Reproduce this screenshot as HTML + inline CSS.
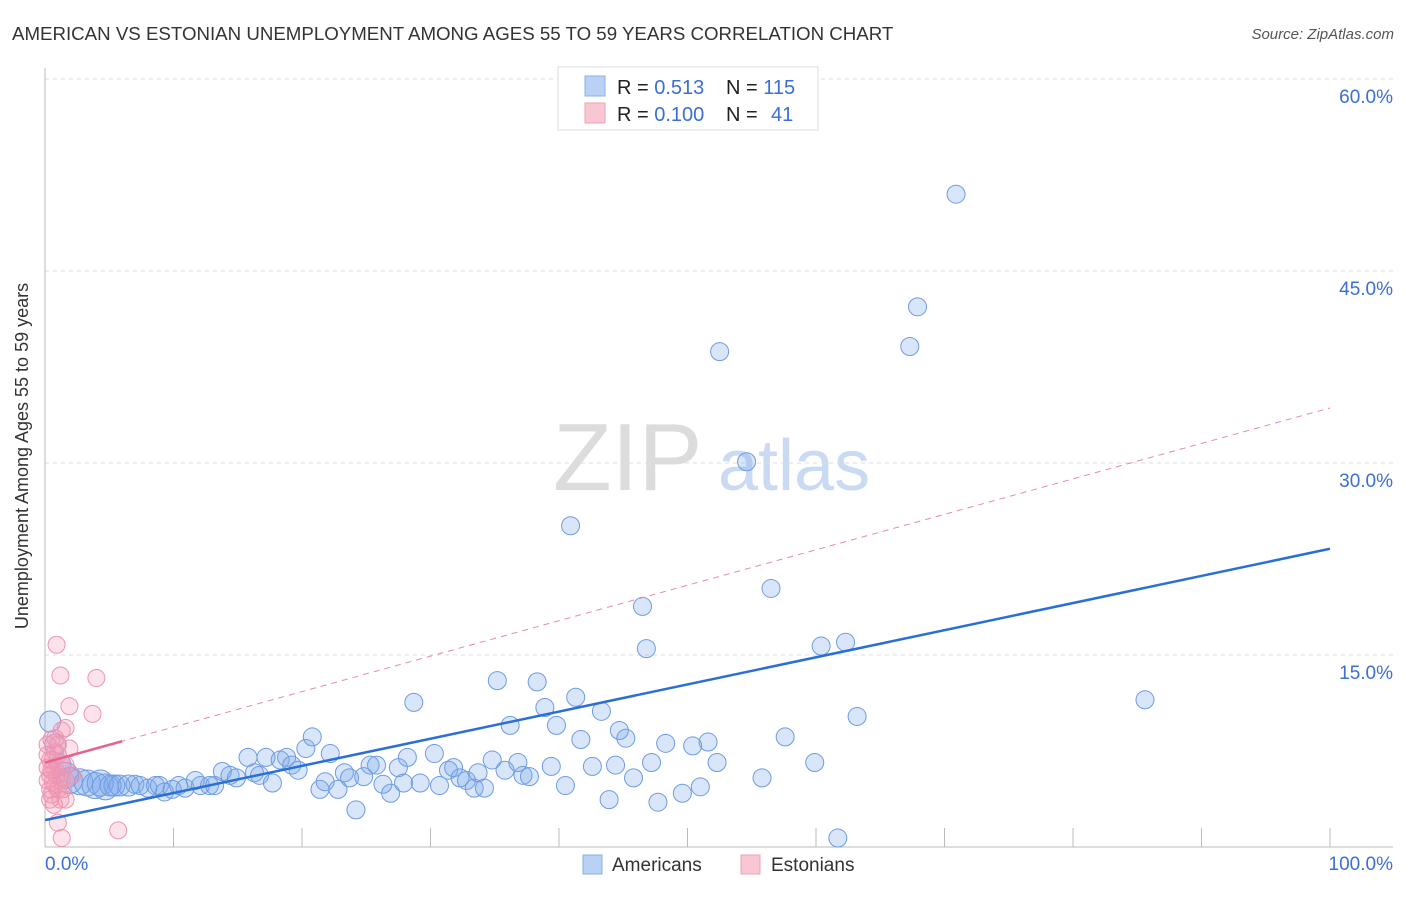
<!DOCTYPE html>
<html><head><meta charset="utf-8"><style>
body{margin:0;background:#fff;font-family:"Liberation Sans",sans-serif}
svg text{font-family:"Liberation Sans",sans-serif}
</style></head><body>
<svg id="c" width="1406" height="892">
<text x="12" y="40" font-size="18.7" fill="#333">AMERICAN VS ESTONIAN UNEMPLOYMENT AMONG AGES 55 TO 59 YEARS CORRELATION CHART</text>
<text x="1394" y="39" font-size="15" fill="#555" font-style="italic" text-anchor="end">Source: ZipAtlas.com</text>
<g>
<text x="553" y="490" font-size="96" fill="#dcdcdc" font-family="Liberation Serif,serif">ZIP</text>
<text x="718" y="490" font-size="72" fill="#c9daf2">atlas</text>
</g>
<g id="grid"></g>
<text x="28" y="456" font-size="18" fill="#333" text-anchor="middle" transform="rotate(-90 28 456)">Unemployment Among Ages 55 to 59 years</text>
<g id="marks"></g>
<g>
<rect x="558" y="67" width="260" height="63" fill="#fff" stroke="#ddd"/>
<rect x="585" y="76" width="20" height="20" fill="#b8d1f5" stroke="#8ab0ea"/>
<rect x="585" y="103" width="20" height="20" fill="#f9c6d4" stroke="#f0a0b8"/>
<text x="617" y="94" font-size="20" fill="#222">R = <tspan fill="#3b6fd6">0.513</tspan><tspan x="726">N = </tspan><tspan fill="#3b6fd6">115</tspan></text>
<text x="617" y="121" font-size="20" fill="#222">R = <tspan fill="#3b6fd6">0.100</tspan><tspan x="726">N = </tspan><tspan x="771" fill="#3b6fd6">41</tspan></text>
</g>
<g>
<rect x="583" y="855" width="19" height="19" fill="#b8d1f5" stroke="#8ab0ea"/>
<text x="612" y="871" font-size="19" fill="#333">Americans</text>
<rect x="741" y="855" width="19" height="19" fill="#f9c6d4" stroke="#f0a0b8"/>
<text x="771" y="871" font-size="19" fill="#333">Estonians</text>
</g>
</svg>
<script>
const yTicks=[15,30,45,60];
const yTickLabels=["15.0%","30.0%","45.0%","60.0%"];
const xTicks=[0,10,20,30,40,50,60,70,80,90,100];
const americansX=[0.4,0.8,1.2,1.6,1.9,2.7,3.3,3.9,4.3,4.7,5.1,5.4,5.8,6.5,7.0,7.4,8.0,8.6,8.9,9.3,9.9,10.4,10.9,11.7,12.1,12.8,13.2,13.8,14.4,14.9,15.8,16.3,16.7,17.2,17.7,18.3,18.8,19.2,19.7,20.3,20.8,21.4,21.8,22.2,22.8,23.3,23.7,24.2,24.8,25.3,25.8,26.3,26.9,27.5,27.9,28.2,28.7,29.2,30.3,30.7,31.4,31.8,32.3,32.8,33.4,33.7,34.2,34.8,35.2,35.8,36.2,36.8,37.2,37.7,38.3,38.9,39.4,39.8,40.5,40.9,41.3,41.7,42.6,43.3,43.9,44.4,44.7,45.2,45.8,46.5,46.8,47.2,47.7,48.3,49.6,50.4,51.0,51.6,52.3,52.5,54.6,55.8,56.5,57.6,59.9,60.4,61.7,62.3,63.2,67.3,67.9,70.9,85.6];
const americansY=[9.8,8.0,6.4,5.6,5.2,5.1,5.0,4.8,5.0,4.7,4.8,4.8,4.8,4.8,4.9,4.8,4.6,4.8,4.8,4.3,4.5,4.8,4.6,5.2,4.8,4.8,4.8,5.9,5.6,5.4,7.0,5.8,5.6,7.0,5.0,6.8,7.0,6.4,6.0,7.7,8.6,4.5,5.1,7.3,4.5,5.8,5.4,2.9,5.5,6.4,6.4,4.9,4.2,6.2,5.0,7.0,11.3,5.0,7.3,4.8,6.0,6.2,5.4,5.2,4.6,5.8,4.6,6.8,13.0,6.0,9.5,6.6,5.6,5.5,12.9,10.9,6.3,9.5,4.8,25.1,11.7,8.4,6.3,10.6,3.7,6.4,9.1,8.5,5.4,18.8,15.5,6.6,3.5,8.1,4.2,7.9,4.7,8.2,6.6,38.7,30.1,5.4,20.2,8.6,6.6,15.7,0.7,16.0,10.2,39.1,42.2,51.0,11.5];
const estoniansX=[0.9,1.2,4.0,1.9,3.7,1.3,1.6,0.8,1.9,0.8,0.4,0.8,0.4,0.6,1.0,0.5,1.2,0.8,0.2,1.3,1.6,1.0,1.3,5.7,0.4,0.6,0.2,1.0,1.2,0.5,1.6,2.1,0.4,0.9,1.4,0.2,1.0,0.7,0.5,1.6,0.2];
const estoniansY=[15.8,13.4,13.2,11.0,10.4,9.1,9.3,8.5,7.7,7.4,6.8,6.0,5.6,5.1,4.5,4.1,3.7,4.8,6.2,5.4,3.7,1.9,0.7,1.3,4.5,6.8,8.0,7.2,6.4,8.4,5.2,5.6,3.7,5.6,4.5,5.2,8.0,3.3,6.0,6.4,7.2];
const trendAmericans=[2.1,23.3];
const trendEstonians=[6.6,34.3];
const X=v=>45+v*12.85, Y=v=>847-v*12.8;
const NS="http://www.w3.org/2000/svg";
function mk(t,a,p){const e=document.createElementNS(NS,t);for(const k in a)e.setAttribute(k,a[k]);p.appendChild(e);return e;}
const g=document.getElementById('grid'), m=document.getElementById('marks');
yTicks.forEach((t,i)=>{
 const l=mk('line',{x1:45,x2:1393,y1:Y(t),y2:Y(t),stroke:'#ddd','stroke-dasharray':'4 4'},g);
 
 
 const tx=mk('text',{x:1393,y:Y(t)+24,'font-size':19,fill:'#3b6fd6','text-anchor':'end'},g);
 tx.textContent=yTickLabels[i];
 
 
});
const ax=mk('line',{x1:45,x2:45,y1:68,y2:847,stroke:'#bbb'},g);


const bx=mk('line',{x1:45,x2:1393,y1:847,y2:847,stroke:'#bbb'},g);


xTicks.forEach(t=>{const l=mk('line',{x1:X(t),x2:X(t),y1:828,y2:847,stroke:'#bbb'},g);
 
 });
let t0=mk('text',{x:45,y:870,'font-size':19,fill:'#3b6fd6'},g);t0.textContent='0.0%';


let t1=mk('text',{x:1393,y:870,'font-size':19,fill:'#3b6fd6','text-anchor':'end'},g);t1.textContent='100.0%';


americansX.forEach((x,i)=>{const c=mk('circle',{cx:X(x),cy:Y(americansY[i]),r:(x>1.5&&x<5)?13:(x<7?10.5:9),fill:'rgba(120,165,235,0.28)',stroke:'#6d9be4','stroke-width':1},m);
 
 });
estoniansX.forEach((x,i)=>{const c=mk('circle',{cx:X(x),cy:Y(estoniansY[i]),r:8.5,fill:'rgba(245,150,178,0.28)',stroke:'#ee94b0','stroke-width':1},m);
 
 });
const la=mk('line',{x1:X(0),y1:Y(trendAmericans[0]),x2:X(100),y2:Y(trendAmericans[1]),stroke:'#2a6fd8','stroke-width':2.5},m);


const ld=mk('line',{x1:X(0),y1:Y(trendEstonians[0]),x2:X(100),y2:Y(trendEstonians[1]),stroke:'#e889a8','stroke-width':1,'stroke-dasharray':'6 5'},m);


const ls=mk('line',{x1:X(0),y1:Y(trendEstonians[0]),x2:X(6),y2:Y(trendEstonians[0]+(trendEstonians[1]-trendEstonians[0])*0.06),stroke:'#e8638c','stroke-width':2.5},m);


</script>
</body></html>
